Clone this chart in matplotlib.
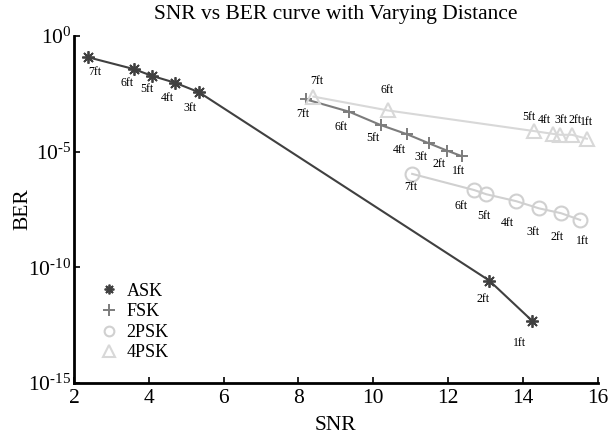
import numpy as np
import matplotlib
matplotlib.use("Agg")
import matplotlib.pyplot as plt

plt.rcParams["font.family"] = ["Liberation Serif", "DejaVu Serif"]
plt.rcParams["mathtext.fontset"] = "custom"
plt.rcParams["mathtext.rm"] = "Liberation Serif"
plt.rcParams["mathtext.it"] = "Liberation Serif:italic"

# Distance labels shared by all schemes
dist_labels = ["7ft", "6ft", "5ft", "4ft", "3ft", "2ft", "1ft"]

# SNR / BER measurements per modulation scheme (BER as log10)
ask_snr = [2.38, 3.60, 4.08, 4.70, 5.34, 13.10, 14.24]
ask_logber = [-0.92, -1.43, -1.72, -2.02, -2.43, -10.57, -12.30]

fsk_snr = [8.20, 9.35, 10.20, 10.91, 11.49, 11.98, 12.36]
fsk_logber = [-2.74, -3.27, -3.85, -4.25, -4.64, -4.96, -5.19]

psk2_snr = [11.04, 12.70, 13.02, 13.82, 14.43, 15.02, 15.53]
psk2_logber = [-5.96, -6.66, -6.84, -7.14, -7.45, -7.66, -7.95]

psk4_snr = [8.40, 10.40, 14.30, 14.80, 15.00, 15.31, 15.71]
psk4_logber = [-2.62, -3.22, -4.11, -4.23, -4.27, -4.27, -4.44]

# Y tick exponents
y_exponents = [0, -5, -10, -15]

# Label offsets in pixels (dx, dy; positive dy is downward)
ask_off = [(7, 15), (-7, 14), (-5, 13), (-8, 15), (-9, 16), (-6, 18), (-12, 22)]
fsk_off = [(-3, 15), (-8, 15), (-8, 13), (-8, 16), (-8, 14), (-8, 13), (-3, 15)]
psk2_off = [(-1, 13), (-13, 16), (-2, 22), (-9, 22), (-6, 24), (-4, 24), (2, 21)]
psk4_off = [(3, -16), (-1, -20), (-5, -14), (-8, -14), (1, -15), (3, -15), (0, -17)]

fig = plt.figure(figsize=(6.12, 4.4), dpi=100)
ax = fig.add_axes([74 / 612, 1 - 383 / 440, (597.7 - 74) / 612, (383 - 36) / 440])

series = [
    ("ASK", ask_snr, ask_logber, ask_off,
     dict(color="#404040", marker=(8, 2, 0), markersize=9, mew=1.3, lw=1.5, leg_ms=7)),
    ("FSK", fsk_snr, fsk_logber, fsk_off,
     dict(color="#7c7c7c", marker="+", markersize=9, mew=1.4, lw=1.5, leg_ms=8)),
    ("2PSK", psk2_snr, psk2_logber, psk2_off,
     dict(color="#d0d0d0", marker="o", markersize=10, mew=1.5, lw=1.5,
          markerfacecolor="none", leg_ms=7)),
    ("4PSK", psk4_snr, psk4_logber, psk4_off,
     dict(color="#d8d8d8", marker="^", markersize=10, mew=1.5, lw=1.5,
          markerfacecolor="none", leg_ms=8)),
]

handles = []
for name, xs, ly, offs, style in series:
    ys = 10.0 ** np.asarray(ly)
    mfc = style.get("markerfacecolor", style["color"])
    ax.plot(xs, ys, linestyle="-", color=style["color"], lw=style["lw"], zorder=2)
    ax.plot(xs, ys, linestyle="none", marker=style["marker"], markersize=style["markersize"],
            mew=style["mew"], color=style["color"], markerfacecolor=mfc, zorder=3)
    h, = ax.plot([], [], linestyle="none", marker=style["marker"],
                 markersize=style["leg_ms"], mew=style["mew"], color=style["color"],
                 markerfacecolor=mfc, label=name)
    handles.append(h)
    for lab, x, y, (dx, dy) in zip(dist_labels, xs, ys, offs):
        ax.annotate(lab, (x, y), xytext=(dx, -dy), textcoords="offset pixels",
                    ha="center", va="center", fontsize=8.5, color="black")

ax.set_yscale("log")
ax.set_xlim(2, 16)
ax.set_ylim(1e-15, 1e0)
ax.set_xticks([2, 4, 6, 8, 10, 12, 14, 16])
ax.set_yticks([10.0 ** e for e in y_exponents])
ax.set_yticklabels([r"$10^{\text{%d}}$" % e for e in y_exponents])
ax.yaxis.set_minor_locator(matplotlib.ticker.NullLocator())
ax.tick_params(direction="in", length=4, width=1.2, labelsize=15.5, pad=4)
ax.tick_params(axis="y", pad=2)

for s in ("top", "right"):
    ax.spines[s].set_visible(False)
for s in ("left", "bottom"):
    ax.spines[s].set_linewidth(2)

ax.set_title("SNR vs BER curve with Varying Distance", fontsize=15.5, pad=12)
ax.set_xlabel("SNR", fontsize=15.5, labelpad=6)
ax.set_ylabel("BER", fontsize=15.5)
ax.yaxis.set_label_coords(-0.08, 0.5)

ax.legend(handles=handles, loc="upper left", bbox_to_anchor=(0.035, 0.31), frameon=False,
          fontsize=13, handlelength=1.0, handletextpad=0.5, labelspacing=0.2,
          borderaxespad=0)

fig.savefig("out.png", dpi=100)
